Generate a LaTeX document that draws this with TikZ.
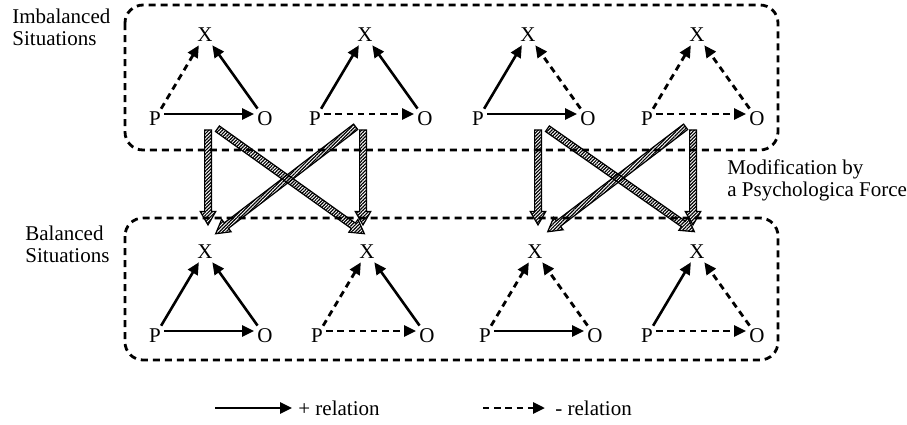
\documentclass[tikz,border=0pt]{standalone}
\usepackage{fontspec}
\setmainfont{Liberation Serif}
\usetikzlibrary{positioning,arrows.meta,shapes.arrows,patterns.meta,calc}

\tikzset{
  plusrel/.style={-{Triangle[length=6pt,width=5.5pt]}, line width=1.3pt},
  minusrel/.style={plusrel, line width=1.4pt, dash pattern=on 3.2pt off 2.4pt},
  situation/.style={line width=1.4pt, dash pattern=on 3.5pt off 2.5pt, rounded corners=9pt},
  force/.style={shape=single arrow, draw, line width=0.6pt, inner sep=1.4pt,
    single arrow head extend=2.2pt, single arrow tip angle=60,
    pattern={Lines[angle=45,distance=1.2pt,line width=0.6pt]}},
  lbl/.style={align=left, inner sep=0pt, anchor=west}
}

\begin{document}
\begin{tikzpicture}[x=0.5pt, y=-0.5pt, on grid,
    every node/.style={inner sep=1.5pt, font=\fontsize{10.5}{11}\selectfont}]
\useasboundingbox (0,0) rectangle (907,424);

\draw[situation] (125,5) rectangle (778,150);
\draw[situation] (125,218) rectangle (778,360);

    \node (t1x) at (205,35) {X};   \node (t2x) at (365,35) {X};   \node (t3x) at (528,35) {X};   \node (t4x) at (697,35) {X};
\node[below left=42pt and 25pt of t1x] (t1p) {P};  \node[below right=42pt and 30pt of t1x] (t1o) {O};
\node[below left=42pt and 25pt of t2x] (t2p) {P};  \node[below right=42pt and 30pt of t2x] (t2o) {O};
\node[below left=42pt and 25pt of t3x] (t3p) {P};  \node[below right=42pt and 30pt of t3x] (t3o) {O};
\node[below left=42pt and 25pt of t4x] (t4p) {P};  \node[below right=42pt and 30pt of t4x] (t4o) {O};

    \node (b1x) at (205,252) {X};  \node (b2x) at (367,252) {X};  \node (b3x) at (535,252) {X};  \node (b4x) at (697,252) {X};
\node[below left=42pt and 25pt of b1x] (b1p) {P};  \node[below right=42pt and 30pt of b1x] (b1o) {O};
\node[below left=42pt and 25pt of b2x] (b2p) {P};  \node[below right=42pt and 30pt of b2x] (b2o) {O};
\node[below left=42pt and 25pt of b3x] (b3p) {P};  \node[below right=42pt and 30pt of b3x] (b3o) {O};
\node[below left=42pt and 25pt of b4x] (b4p) {P};  \node[below right=42pt and 30pt of b4x] (b4o) {O};

 \path (t1p) edge[minusrel] (t1x) ([yshift=2.5pt]t1p.east) edge[plusrel] ([yshift=2.5pt]t1o.west) ;  \path (t1o) edge[plusrel] (t1x) ;
 \path (t2p) edge[plusrel] (t2x) ([yshift=2.5pt]t2p.east) edge[minusrel] ([yshift=2.5pt]t2o.west) ;  \path (t2o) edge[plusrel] (t2x) ;
 \path (t3p) edge[plusrel] (t3x) ([yshift=2.5pt]t3p.east) edge[plusrel] ([yshift=2.5pt]t3o.west) ;  \path (t3o) edge[minusrel] (t3x) ;
 \path (t4p) edge[minusrel] (t4x) ([yshift=2.5pt]t4p.east) edge[minusrel] ([yshift=2.5pt]t4o.west) ;  \path (t4o) edge[minusrel] (t4x) ;

 \path (b1p) edge[plusrel] (b1x) ([yshift=2.5pt]b1p.east) edge[plusrel] ([yshift=2.5pt]b1o.west) ;  \path (b1o) edge[plusrel] (b1x) ;
 \path (b2p) edge[minusrel] (b2x) ([yshift=2.5pt]b2p.east) edge[minusrel] ([yshift=2.5pt]b2o.west) ;  \path (b2o) edge[plusrel] (b2x) ;
 \path (b3p) edge[minusrel] (b3x) ([yshift=2.5pt]b3p.east) edge[plusrel] ([yshift=2.5pt]b3o.west) ;  \path (b3o) edge[minusrel] (b3x) ;
 \path (b4p) edge[plusrel] (b4x) ([yshift=2.5pt]b4p.east) edge[minusrel] ([yshift=2.5pt]b4o.west) ;  \path (b4o) edge[minusrel] (b4x) ;

\coordinate (f1s) at (208,127);  \coordinate (f1e) at (208,222);
\coordinate (f2s) at (363,127);  \coordinate (f2e) at (363,222);
\coordinate (f3s) at (215,127);  \coordinate (f3e) at (362,232);
\coordinate (f4s) at (358,125);  \coordinate (f4e) at (218,232);
\coordinate (f5s) at (538,127);  \coordinate (f5e) at (538,222);
\coordinate (f6s) at (693,127);  \coordinate (f6e) at (693,222);
\coordinate (f7s) at (545,127);  \coordinate (f7e) at (692,230);
\coordinate (f8s) at (688,125);  \coordinate (f8e) at (550,230);
\path let \p1=($(f1e)-(f1s)$), \n1={atan2(\y1,\x1)}, \n2={veclen(\x1,\y1)} in node[force, rotate=\n1, minimum height=\n2] (f1) at ($(f1s)!0.5!(f1e)$) {};
\path let \p1=($(f2e)-(f2s)$), \n1={atan2(\y1,\x1)}, \n2={veclen(\x1,\y1)} in node[force, rotate=\n1, minimum height=\n2] (f2) at ($(f2s)!0.5!(f2e)$) {};
\path let \p1=($(f3e)-(f3s)$), \n1={atan2(\y1,\x1)}, \n2={veclen(\x1,\y1)} in node[force, rotate=\n1, minimum height=\n2] (f3) at ($(f3s)!0.5!(f3e)$) {};
\path let \p1=($(f4e)-(f4s)$), \n1={atan2(\y1,\x1)}, \n2={veclen(\x1,\y1)} in node[force, rotate=\n1, minimum height=\n2] (f4) at ($(f4s)!0.5!(f4e)$) {};
\path let \p1=($(f5e)-(f5s)$), \n1={atan2(\y1,\x1)}, \n2={veclen(\x1,\y1)} in node[force, rotate=\n1, minimum height=\n2] (f5) at ($(f5s)!0.5!(f5e)$) {};
\path let \p1=($(f6e)-(f6s)$), \n1={atan2(\y1,\x1)}, \n2={veclen(\x1,\y1)} in node[force, rotate=\n1, minimum height=\n2] (f6) at ($(f6s)!0.5!(f6e)$) {};
\path let \p1=($(f7e)-(f7s)$), \n1={atan2(\y1,\x1)}, \n2={veclen(\x1,\y1)} in node[force, rotate=\n1, minimum height=\n2] (f7) at ($(f7s)!0.5!(f7e)$) {};
\path let \p1=($(f8e)-(f8s)$), \n1={atan2(\y1,\x1)}, \n2={veclen(\x1,\y1)} in node[force, rotate=\n1, minimum height=\n2] (f8) at ($(f8s)!0.5!(f8e)$) {};

\node[lbl] (imb) at (12,27) {Imbalanced\\Situations};
\node[lbl] (bal) at (25,244) {Balanced\\Situations};
\node[lbl] (mod) at (727,180) {Modification by\\a Psychologica Force};

\coordinate (l1s) at (215,408);  \coordinate (l1e) at (292,408);
\coordinate (l2s) at (483,408);  \coordinate (l2e) at (545,408);
\draw[plusrel] (l1s) -- (l1e);   \node[lbl] (l1) at (298,408) {+ relation};
\draw[minusrel] (l2s) -- (l2e);  \node[lbl] (l2) at (555,408) {- relation};
\end{tikzpicture}
\end{document}
